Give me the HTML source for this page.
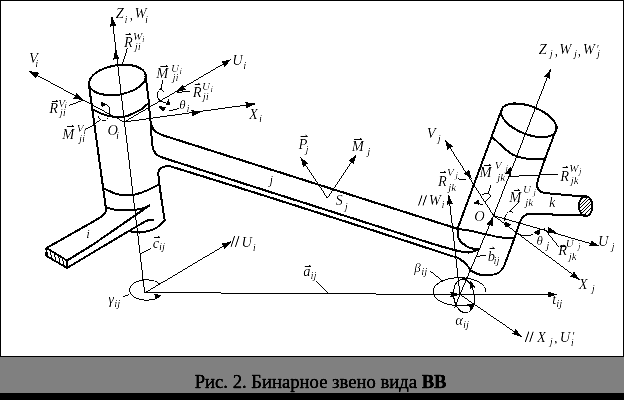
<!DOCTYPE html>
<html><head><meta charset="utf-8"><style>
html,body{margin:0;padding:0;background:#fff;}
body{width:624px;height:400px;overflow:hidden;position:relative;}
svg{position:absolute;left:0;top:0;}
</style></head><body>
<svg width="624" height="400" viewBox="0 0 624 400" style="font-family:'Liberation Serif',serif">
<defs><filter id="th5" filterUnits="userSpaceOnUse" x="0" y="0" width="624" height="400" color-interpolation-filters="sRGB"><feComponentTransfer><feFuncA type="discrete" tableValues="0 1"/></feComponentTransfer></filter><filter id="th4" filterUnits="userSpaceOnUse" x="0" y="0" width="624" height="400" color-interpolation-filters="sRGB"><feComponentTransfer><feFuncA type="discrete" tableValues="0 0 1 1 1"/></feComponentTransfer></filter><filter id="tc" filterUnits="userSpaceOnUse" x="0" y="0" width="624" height="400" color-interpolation-filters="sRGB"><feComponentTransfer><feFuncA type="linear" slope="1.4" intercept="-0.3"/></feComponentTransfer></filter><filter id="tcc" filterUnits="userSpaceOnUse" x="0" y="0" width="624" height="400" color-interpolation-filters="sRGB"><feComponentTransfer><feFuncA type="linear" slope="1.6" intercept="-0.2"/></feComponentTransfer></filter><clipPath id="ck"><ellipse cx="585.7" cy="206.2" rx="6" ry="9"/></clipPath></defs>
<rect x="0" y="0" width="624" height="357" fill="#fff"/>
<rect x="0" y="357" width="624" height="36" fill="#808080"/>
<rect x="0" y="393" width="624" height="7" fill="#000"/>
<rect x="0.5" y="0.5" width="623" height="356" fill="none" stroke="#000" stroke-width="1"/>
<g fill="none" stroke="#000" stroke-width="2.0" stroke-linejoin="round" stroke-linecap="round" filter="url(#th5)">
<ellipse cx="117.4" cy="79.9" rx="28.7" ry="14.7" transform="rotate(-9.6 117.4 79.9)"/>
<path d="M88.8,84.0 L106.0,209.0 L106.3,210.5"/>
<path d="M145.6,76.0 C146.6,84.0 147.7,92.0 148.6,100.0 C149.5,108.0 149.4,116.1 151.0,124.0 C151.5,126.6 153.1,129.1 155.0,131.0 C156.9,132.9 159.7,133.7 162.0,135.0"/>
<path d="M151.0,124.0 C151.3,129.3 151.3,134.7 151.8,140.0 C152.1,143.4 152.2,146.9 153.5,150.0 C154.4,152.2 156.1,154.1 158.0,155.5 C159.9,156.9 162.3,157.3 164.5,158.2"/>
<path d="M91.7,108.8 C95.1,110.5 98.3,112.6 101.8,113.9 C105.4,115.2 109.2,116.1 113.0,116.7 C116.0,117.2 119.0,117.7 122.0,117.3 C125.5,116.8 128.8,115.3 132.1,113.9 C135.2,112.6 138.3,111.2 141.1,109.4 C143.4,108.0 145.2,106.0 147.3,104.3"/>
<path d="M103.2,188.2 C108.0,190.2 112.5,193.0 117.5,194.2 C122.4,195.3 127.5,195.7 132.5,195.0 C137.7,194.3 142.6,192.1 147.5,190.2 C151.5,188.6 155.2,186.4 159.0,184.5"/>
<path d="M106.2,207.7 C110.0,208.5 113.7,209.7 117.5,210.0 C123.0,210.5 128.5,210.5 134.0,210.0 C137.6,209.7 141.1,208.7 144.5,207.7 C146.1,207.2 147.6,206.3 149.2,205.6"/>
<path d="M158.3,174.0 C158.7,177.7 159.0,181.3 159.5,185.0 C160.3,191.0 161.1,197.0 162.0,203.0 C162.9,208.8 163.8,214.7 164.7,220.5"/>
<path d="M131.0,231.7 C134.0,232.0 137.0,232.9 140.0,232.5 C145.1,231.9 150.4,231.0 155.0,228.7 C158.8,226.8 161.5,223.2 164.7,220.5"/>
<path d="M106.3,210.5 C105.3,212.1 104.6,213.9 103.2,215.2 C101.4,216.9 99.2,218.2 97.0,219.4 C80.3,229.1 63.3,238.5 46.5,248.0"/>
<path d="M46.5,248.0 L67.0,260.5 L67.0,268.0 L46.5,256.0 L46.5,248.0"/>
<path d="M67.0,260.5 C74.7,255.8 82.4,251.2 90.0,246.4 C93.2,244.4 96.4,242.2 99.5,240.0 C116.1,228.6 132.6,217.1 149.2,205.6"/>
<path d="M67.0,268.0 C91.3,253.5 115.6,238.9 140.0,224.5 C142.0,223.3 144.0,222.2 146.0,221.2 C147.2,220.6 148.4,219.9 149.7,219.7 C151.0,219.5 152.2,220.1 153.5,220.3"/>
<path d="M162.0,135.0 L457.5,228.8"/>
<path d="M164.5,158.2 C253.0,186.5 341.4,215.1 430.0,243.0 C440.6,246.3 451.2,249.3 462.0,251.8 C464.6,252.4 467.4,252.7 470.0,252.3 C472.8,251.9 475.3,250.4 478.0,249.5"/>
<path d="M158.3,174.0 C158.5,172.8 158.4,171.5 159.0,170.5 C159.8,169.2 161.0,167.9 162.5,167.3 C164.9,166.4 167.6,165.5 170.0,166.2 C266.0,195.6 361.5,226.5 457.0,257.6 C459.6,258.4 461.7,260.3 463.8,262.0 C465.6,263.4 467.1,265.2 468.5,267.0 C469.3,268.1 469.8,269.3 470.5,270.5"/>
<path d="M457.5,228.8 C457.6,230.5 457.5,232.3 457.8,234.0 C458.2,236.0 458.2,238.4 459.5,240.0 C461.9,243.0 464.9,245.7 468.3,247.4 C471.4,248.9 475.0,248.8 478.4,249.5"/>
<ellipse cx="528.9" cy="120.3" rx="29.3" ry="14" transform="rotate(21.2 528.9 120.3)"/>
<path d="M501.3,110.5 L457.5,228.8"/>
<path d="M556.8,127.5 C550.3,145.6 542.6,163.4 537.4,181.9 C536.6,184.8 537.3,188.3 539.2,190.6 C541.0,192.7 544.4,192.4 547.0,193.3"/>
<path d="M492.0,137.0 C494.7,139.4 497.3,141.9 500.0,144.2 C504.2,147.8 508.0,152.0 512.9,154.6 C517.3,156.9 522.4,158.0 527.3,158.7 C532.8,159.5 538.5,158.8 544.1,158.9"/>
<path d="M457.5,228.8 C463.3,229.8 469.2,230.5 475.0,231.7 C483.3,233.4 491.4,235.9 499.8,237.3 C504.5,238.1 509.3,238.0 514.0,238.4"/>
<path d="M527.5,213.7 C525.6,215.3 522.9,216.3 521.7,218.5 C518.6,224.2 517.2,230.6 515.0,236.7 C512.1,244.5 509.2,252.3 506.3,260.0 C505.3,262.6 504.7,265.4 503.2,267.7 C501.8,269.9 500.0,272.2 497.6,273.3 C494.7,274.7 491.2,274.8 488.0,275.0 C485.2,275.2 482.2,275.2 479.5,274.5 C476.3,273.7 473.5,271.8 470.5,270.5"/>
<path d="M547.0,193.3 L586.4,196.8"/>
<path d="M527.5,213.7 L586.0,215.6"/>
<ellipse cx="585.7" cy="206.2" rx="6.8" ry="9.9"/>
</g>
<g filter="url(#th5)">
<g fill="none" stroke="#000" stroke-width="1">
<path d="M50.2,251.2 L51.8,258.1"/>
<path d="M54.2,253.7 L55.8,260.5"/>
<path d="M58.5,256.3 L60.1,263.0"/>
<path d="M62.5,258.7 L64.1,265.3"/>
<path d="M562.9,218.2 L586.9,194.2" clip-path="url(#ck)"/>
<path d="M566.5,218.2 L590.5,194.2" clip-path="url(#ck)"/>
<path d="M570.1,218.2 L594.1,194.2" clip-path="url(#ck)"/>
<path d="M573.7,218.2 L597.7,194.2" clip-path="url(#ck)"/>
<path d="M577.3,218.2 L601.3,194.2" clip-path="url(#ck)"/>
<path d="M580.9,218.2 L604.9,194.2" clip-path="url(#ck)"/>
<path d="M584.5,218.2 L608.5,194.2" clip-path="url(#ck)"/>
<path d="M112.0,16.6 L144.7,293.0"/>
<path d="M124.1,122.0 L29.0,71.0"/>
<path d="M124.1,122.0 L231.0,59.5"/>
<path d="M124.1,122.0 L255.4,103.8"/>
<path d="M144.7,293.0 L231.4,241.4"/>
<path d="M144.7,292.5 L221,292.5 M221,293.5 L376,293.5 M376,294.5 L551,294.5"/>
<path d="M460.0,294.5 L521.8,336.8"/>
<path d="M460.0,294.5 L448.8,195.0"/>
<path d="M454.6,308.0 L460.0,294.5 L493.6,215.6 L550.6,69.0"/>
<path d="M493.6,215.6 L445.0,140.0"/>
<path d="M493.6,215.6 L599.3,246.0"/>
<path d="M493.6,215.6 L579.9,279.9"/>
<path d="M327.4,198.2 L300.5,157.2"/>
<path d="M327.4,198.2 L356.4,154.6"/>
<path d="M127.4,48.2 L122.1,64.8"/>
<path d="M68.9,105.4 L83.8,100.0"/>
<path d="M84.7,130.0 L94.3,124.7 L100.4,119.4"/>
<path d="M162.8,79.5 L161.0,89.2"/>
<path d="M190.8,90.9 L176.8,92.6"/>
<path d="M168.9,111.0 L179.4,108.4"/>
<path d="M141.0,253.3 L151.3,248.2"/>
<path d="M123.0,297.0 L129.5,294.4"/>
<path d="M316.0,280.9 L327.8,293.2"/>
<path d="M429.5,270.5 L442.3,280.8"/>
<path d="M477.0,256.4 L486.0,255.0"/>
<path d="M457.5,178.8 L466.0,180.0"/>
<path d="M507.7,176.6 L558.0,174.0"/>
<path d="M519.0,201.5 L510.0,211.3"/>
<path d="M543.8,228.0 L559.2,247.3"/>
<path d="M160,284 A16.7,10.3 0 1 0 160,296"/>
<path d="M486,292.3 A26.5,14 0 1 0 472,304"/>
<ellipse cx="464" cy="296" rx="10.3" ry="17" transform="rotate(-8 464 296)"/>
<path d="M518.2,233 C521,236 526,236.6 533.5,234.3"/>
<path d="M161,89 C157.5,90 156.3,95.5 158.3,98.7 C160,101.3 162.8,102.6 166,102.8 M161,89 L164.2,92.2"/>
<path d="M106,104.4 L109.6,107.2 L109.6,113.4"/>
<path d="M98,115.6 C99,118.6 101,120.4 103.8,120.6 C106,120.7 107.6,119.5 108.4,117.6"/>
<path d="M490.7,185.3 L488.4,193.2 M482,194.4 L488.4,193.2 L490.8,196 L485,202.6 M483,204 L479.5,204"/>
<path d="M510,211.3 L512.8,212.4 M510,211.3 C507.5,212 505.6,214.5 504.9,217.5 L504.2,221"/>
</g>
<g fill="#000" stroke="none">
<path d="M112.0,16.6 L116.5,26.1 L113.0,25.3 L109.9,26.9 Z"/>
<path d="M115.1,49.9 L119.6,59.4 L116.2,58.6 L113.0,60.2 Z"/>
<path d="M29.0,71.0 L39.4,72.8 L36.8,75.2 L36.3,78.6 Z"/>
<path d="M83.2,100.3 L72.8,98.4 L75.5,96.1 L76.0,92.6 Z"/>
<path d="M231.0,59.5 L224.0,67.4 L223.4,63.9 L220.7,61.7 Z"/>
<path d="M176.3,92.1 L183.2,84.1 L183.9,87.6 L186.6,89.8 Z"/>
<path d="M255.4,103.8 L245.9,108.4 L246.7,105.0 L245.0,101.9 Z"/>
<path d="M201.3,111.9 L191.8,116.5 L192.6,113.0 L191.0,109.9 Z"/>
<path d="M231.4,241.4 L224.5,249.4 L223.8,245.9 L221.1,243.7 Z"/>
<path d="M557.5,294.5 L547.5,297.8 L548.7,294.5 L547.5,291.2 Z"/>
<path d="M460.0,294.5 L450.0,297.8 L451.2,294.5 L450.0,291.2 Z"/>
<path d="M521.8,336.8 L511.7,333.9 L514.5,331.8 L515.4,328.4 Z"/>
<path d="M448.8,195.0 L453.2,204.6 L449.7,203.7 L446.6,205.3 Z"/>
<path d="M493.3,216.6 L492.4,227.1 L489.8,224.7 L486.3,224.5 Z"/>
<path d="M550.6,69.0 L550.1,79.5 L547.4,77.2 L543.9,77.1 Z"/>
<path d="M511.2,166.0 L511.0,176.5 L508.3,174.3 L504.7,174.3 Z"/>
<path d="M445.0,140.0 L453.2,146.6 L449.8,147.4 L447.6,150.2 Z"/>
<path d="M471.8,179.3 L463.4,172.9 L466.8,172.0 L468.9,169.2 Z"/>
<path d="M599.3,246.0 L588.8,246.4 L590.8,243.6 L590.6,240.1 Z"/>
<path d="M557.0,232.5 L546.5,233.1 L548.5,230.2 L548.2,226.7 Z"/>
<path d="M579.9,279.9 L569.9,276.6 L572.8,274.6 L573.9,271.3 Z"/>
<path d="M300.5,157.2 L308.7,163.8 L305.3,164.6 L303.2,167.4 Z"/>
<path d="M356.4,154.6 L353.6,164.8 L351.5,161.9 L348.1,161.1 Z"/>
<path d="M162.0,295.3 L154.7,299.7 L155.3,296.5 L153.6,293.8 Z"/>
<path d="M470.5,280.3 L475.7,287.7 L472.5,287.3 L469.9,289.3 Z"/>
<path d="M475.5,302.5 L470.7,310.1 L469.8,307.0 L467.0,305.4 Z"/>
<path d="M157.5,105.2 L166.2,107.4 L162.8,111.4 Z"/>
<path d="M533.4,232.6 L539.9,229.2 L539.4,235.6 Z"/>
<path d="M168.3,98.8 L165.8,104.7 L170.8,104.7 Z"/>
<path d="M101.2,101.8 L106.6,104.6 L101.6,107.4 Z"/>
<path d="M473,203.6 L479.4,199.2 L479.4,204.7 Z"/>
<path d="M504.6,221.6 L504.6,227.4 L511.8,225 Z"/>
</g>
</g>
<g fill="#000" filter="url(#tc)">
<text x="115.82" y="18.40" font-size="14.5" font-style="italic">Z</text>
<text x="124.39" y="22.50" font-size="11" font-style="italic">i</text>
<text x="129.52" y="20.10" font-size="14.5" font-style="italic">,</text>
<text x="134.54" y="18.40" font-size="14.5" font-style="italic">W</text>
<text x="145.09" y="22.50" font-size="11" font-style="italic">i</text>
<text x="124.08" y="46.50" font-size="14.5" font-style="italic">R</text>
<path d="M125.5,34.5 L131.0,34.5 M128.8,32.9 L131.0,34.5" stroke="#000" stroke-width="1" fill="none"/>
<text x="132.97" y="39.50" font-size="11" font-style="italic">W</text>
<text x="142.00" y="41.50" font-size="9" font-style="italic">i</text>
<text x="134.68" y="50.40" font-size="11" font-style="italic">ji</text>
<text x="29.04" y="63.00" font-size="14.5" font-style="italic">V</text>
<text x="35.19" y="66.60" font-size="11" font-style="italic">i</text>
<text x="232.27" y="64.70" font-size="14.5" font-style="italic">U</text>
<text x="243.19" y="68.60" font-size="11" font-style="italic">i</text>
<text x="156.37" y="77.70" font-size="14.5" font-style="italic">M</text>
<path d="M160.3,66.5 L167.9,66.5 M165.7,64.9 L167.9,66.5" stroke="#000" stroke-width="1" fill="none"/>
<text x="170.99" y="72.20" font-size="11" font-style="italic">U</text>
<text x="179.50" y="74.00" font-size="9" font-style="italic">i</text>
<text x="172.38" y="80.80" font-size="11" font-style="italic">ji</text>
<text x="192.68" y="97.00" font-size="14.5" font-style="italic">R</text>
<path d="M194.7,84.5 L200.2,84.5 M198.0,82.9 L200.2,84.5" stroke="#000" stroke-width="1" fill="none"/>
<text x="201.99" y="90.00" font-size="11" font-style="italic">U</text>
<text x="210.50" y="92.00" font-size="9" font-style="italic">i</text>
<text x="202.68" y="100.10" font-size="11" font-style="italic">ji</text>
<text x="179.17" y="108.60" font-size="13" font-style="italic">θ</text>
<text x="186.39" y="111.60" font-size="11" font-style="italic">i</text>
<text x="248.98" y="119.00" font-size="14.5" font-style="italic">X</text>
<text x="259.09" y="122.20" font-size="11" font-style="italic">i</text>
<text x="49.18" y="112.90" font-size="14.5" font-style="italic">R</text>
<path d="M51.9,101.5 L58.0,101.5 M55.8,99.9 L58.0,101.5" stroke="#000" stroke-width="1" fill="none"/>
<text x="58.23" y="106.70" font-size="11" font-style="italic">V</text>
<text x="64.50" y="108.20" font-size="9" font-style="italic">i</text>
<text x="59.68" y="116.10" font-size="11" font-style="italic">ji</text>
<text x="62.37" y="139.00" font-size="14.5" font-style="italic">M</text>
<path d="M67.0,126.5 L73.9,126.5 M71.7,124.9 L73.9,126.5" stroke="#000" stroke-width="1" fill="none"/>
<text x="76.73" y="132.10" font-size="11" font-style="italic">V</text>
<text x="83.50" y="133.80" font-size="9" font-style="italic">i</text>
<text x="78.98" y="142.10" font-size="11" font-style="italic">ji</text>
<text x="107.57" y="134.90" font-size="14.5" font-style="italic">O</text>
<text x="115.89" y="139.00" font-size="11" font-style="italic">i</text>
<text x="86.18" y="238.40" font-size="13" font-style="italic">i</text>
<text x="269.59" y="183.80" font-size="13" font-style="italic">j</text>
<text x="548.98" y="207.40" font-size="14.5" font-style="italic">k</text>
<text x="298.58" y="148.90" font-size="14.5" font-style="italic">P</text>
<path d="M300.5,136.5 L307.5,136.5 M305.3,134.9 L307.5,136.5" stroke="#000" stroke-width="1" fill="none"/>
<text x="305.48" y="153.10" font-size="11" font-style="italic">j</text>
<text x="351.77" y="151.20" font-size="14.5" font-style="italic">M</text>
<path d="M354.0,139.5 L362.0,139.5 M359.8,137.9 L362.0,139.5" stroke="#000" stroke-width="1" fill="none"/>
<text x="367.18" y="155.20" font-size="11" font-style="italic">j</text>
<text x="335.43" y="205.40" font-size="14.5" font-style="italic">S</text>
<text x="344.68" y="210.40" font-size="11" font-style="italic">j</text>
<text x="152.75" y="248.00" font-size="14.5" font-style="italic">c</text>
<path d="M153.8,237.5 L160.0,237.5 M157.8,235.9 L160.0,237.5" stroke="#000" stroke-width="1" fill="none"/>
<text x="158.99" y="249.90" font-size="11" font-style="italic">ij</text>
<path d="M231.0,246.8 L234.6,236.0 M235.4,246.8 L239.0,236.0" stroke="#000" stroke-width="1.1" fill="none"/>
<text x="241.47" y="246.80" font-size="14.5" font-style="italic">U</text>
<text x="252.79" y="251.40" font-size="11" font-style="italic">i</text>
<text x="108.24" y="303.50" font-size="14.5" font-style="italic">γ</text>
<text x="114.29" y="307.40" font-size="11" font-style="italic">ij</text>
<text x="303.17" y="275.80" font-size="14.5" font-style="italic">a</text>
<path d="M304.7,266.5 L311.0,266.5 M308.8,264.9 L311.0,266.5" stroke="#000" stroke-width="1" fill="none"/>
<text x="310.39" y="279.00" font-size="11" font-style="italic">ij</text>
<text x="414.21" y="271.50" font-size="13" font-style="italic">β</text>
<text x="421.29" y="275.30" font-size="11" font-style="italic">ij</text>
<text x="455.27" y="325.00" font-size="14.5" font-style="italic">α</text>
<text x="462.99" y="328.20" font-size="11" font-style="italic">ij</text>
<text x="487.76" y="260.80" font-size="14.5" font-style="italic">b</text>
<path d="M489.5,248.5 L494.5,248.5 M492.3,246.9 L494.5,248.5" stroke="#000" stroke-width="1" fill="none"/>
<text x="493.39" y="264.00" font-size="11" font-style="italic">ij</text>
<text x="552.36" y="304.20" font-size="14.5" font-style="italic">t</text>
<text x="556.29" y="307.40" font-size="11" font-style="italic">ij</text>
<path d="M525.3,342.0 L528.9,331.5 M529.7,342.0 L533.3,331.5" stroke="#000" stroke-width="1.1" fill="none"/>
<text x="536.98" y="342.00" font-size="14.5" font-style="italic">X</text>
<text x="549.68" y="345.30" font-size="11" font-style="italic">j</text>
<text x="554.02" y="343.30" font-size="14.5" font-style="italic">,</text>
<text x="559.67" y="342.00" font-size="14.5" font-style="italic">U</text>
<text x="571.87" y="339.70" font-size="12" font-style="italic">′</text>
<text x="570.69" y="345.90" font-size="11" font-style="italic">i</text>
<text x="578.78" y="288.50" font-size="14.5" font-style="italic">X</text>
<text x="591.68" y="292.30" font-size="11" font-style="italic">j</text>
<text x="597.97" y="245.70" font-size="14.5" font-style="italic">U</text>
<text x="611.48" y="250.30" font-size="11" font-style="italic">j</text>
<text x="536.57" y="245.20" font-size="13" font-style="italic">θ</text>
<text x="546.18" y="249.30" font-size="11" font-style="italic">j</text>
<text x="558.18" y="255.30" font-size="14.5" font-style="italic">R</text>
<path d="M560.0,246.5 L565.5,246.5 M563.3,244.9 L565.5,246.5" stroke="#000" stroke-width="1" fill="none"/>
<text x="565.79" y="246.60" font-size="11" font-style="italic">U</text>
<text x="577.96" y="248.50" font-size="9" font-style="italic">j</text>
<text x="568.68" y="260.30" font-size="11" font-style="italic">jk</text>
<text x="560.28" y="180.70" font-size="14.5" font-style="italic">R</text>
<path d="M562.5,167.5 L568.0,167.5 M565.8,165.9 L568.0,167.5" stroke="#000" stroke-width="1" fill="none"/>
<text x="569.17" y="171.70" font-size="11" font-style="italic">W</text>
<text x="578.96" y="174.20" font-size="9" font-style="italic">j</text>
<text x="570.68" y="184.30" font-size="11" font-style="italic">jk</text>
<text x="509.17" y="201.60" font-size="14.5" font-style="italic">M</text>
<path d="M514.0,190.5 L519.8,190.5 M517.6,188.9 L519.8,190.5" stroke="#000" stroke-width="1" fill="none"/>
<text x="523.09" y="193.00" font-size="11" font-style="italic">U</text>
<text x="533.46" y="195.30" font-size="9" font-style="italic">j</text>
<text x="525.18" y="205.70" font-size="11" font-style="italic">jk</text>
<text x="479.57" y="177.00" font-size="14.5" font-style="italic">M</text>
<path d="M484.0,165.5 L491.0,165.5 M488.8,163.9 L491.0,165.5" stroke="#000" stroke-width="1" fill="none"/>
<text x="494.83" y="168.80" font-size="11" font-style="italic">V</text>
<text x="505.46" y="170.50" font-size="9" font-style="italic">j</text>
<text x="497.18" y="181.00" font-size="11" font-style="italic">jk</text>
<text x="438.08" y="185.50" font-size="14.5" font-style="italic">R</text>
<path d="M440.0,172.5 L446.0,172.5 M443.8,170.9 L446.0,172.5" stroke="#000" stroke-width="1" fill="none"/>
<text x="447.03" y="176.00" font-size="11" font-style="italic">V</text>
<text x="455.46" y="178.00" font-size="9" font-style="italic">j</text>
<text x="448.18" y="190.60" font-size="11" font-style="italic">jk</text>
<text x="426.64" y="137.70" font-size="14.5" font-style="italic">V</text>
<text x="437.68" y="141.70" font-size="11" font-style="italic">j</text>
<path d="M418.5,205.6 L422.1,195.2 M422.9,205.6 L426.5,195.2" stroke="#000" stroke-width="1.1" fill="none"/>
<text x="428.64" y="205.30" font-size="14.5" font-style="italic">W</text>
<text x="441.39" y="208.20" font-size="11" font-style="italic">i</text>
<text x="474.27" y="221.10" font-size="14.5" font-style="italic">O</text>
<text x="538.82" y="54.20" font-size="14.5" font-style="italic">Z</text>
<text x="549.68" y="57.00" font-size="11" font-style="italic">j</text>
<text x="554.52" y="55.50" font-size="14.5" font-style="italic">,</text>
<text x="559.14" y="54.20" font-size="14.5" font-style="italic">W</text>
<text x="573.98" y="57.00" font-size="11" font-style="italic">j</text>
<text x="577.52" y="55.50" font-size="14.5" font-style="italic">,</text>
<text x="582.84" y="54.20" font-size="14.5" font-style="italic">W</text>
<text x="595.97" y="52.60" font-size="12" font-style="italic">′</text>
<text x="597.08" y="57.00" font-size="11" font-style="italic">j</text>
</g>
<g filter="url(#tcc)" fill="#000" stroke="#000" stroke-width="0.3"><text x="194.7" y="388.3" font-size="18.67" style="font-family:'Liberation Serif';white-space:pre">Рис. 2. Бинарное звено вида <tspan font-weight="bold">BB</tspan></text></g>
</svg>
</body></html>
